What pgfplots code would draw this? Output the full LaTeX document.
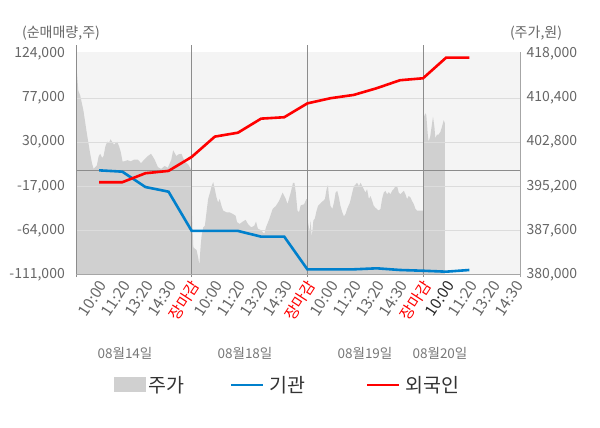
\documentclass[border=0pt]{standalone}
\usepackage{pgfplots}
\pgfplotsset{compat=1.18}
\usepackage{fontspec}
\setmainfont{Noto Sans CJK KR}
\definecolor{bg}{HTML}{F4F4F4}
\definecolor{areagray}{HTML}{D0D0D0}
\definecolor{gridc}{HTML}{DCDCDC}
\definecolor{sepc}{HTML}{8C8C8C}
\definecolor{axc}{HTML}{A6A6A6}
\definecolor{tickc}{HTML}{666666}
\definecolor{datec}{HTML}{777777}
\definecolor{bluel}{HTML}{0080CC}
\definecolor{redl}{HTML}{FF0000}
\definecolor{legc}{HTML}{333333}
\newcommand{\tfont}{\fontsize{14bp}{16bp}\selectfont}
\newcommand{\xfont}{\fontsize{15.3bp}{17bp}\selectfont}
\newcommand{\lfont}{\fontsize{19.5bp}{22bp}\selectfont}
\begin{document}
\begin{tikzpicture}
\path[use as bounding box] (0bp,0bp) rectangle (600bp,428bp);
% ---------- price area (right axis) ----------
\begin{axis}[
  at={(76bp,153.7bp)}, anchor=south west, scale only axis,
  width=444bp, height=222.6bp,
  xmin=0, xmax=19.19, ymin=380000, ymax=418432,
  scaled x ticks=false, scaled y ticks=false,
  axis background/.style={fill=bg},
  axis line style={draw=none},
  xtick=\empty,
  ytick={380000,387600,395200,402800,410400,418000},
  yticklabels={{380,000},{387,600},{395,200},{402,800},{410,400},{418,000}},
  yticklabel pos=right,
  major tick length=0pt,
  yticklabel style={font=\tfont, text=tickc, anchor=west, inner sep=0pt, xshift=6.5bp},
  clip=false,
  legend style={at={(axis description cs:0.0856,-0.497)}, anchor=west, draw=none, fill=none,
    inner sep=0pt, font=\lfont, text=legc},
]
\addplot[fill=areagray, draw=none,
  legend image code/.code={\fill[areagray] (0bp,-7.5bp) rectangle (32bp,7.5bp);}]
coordinates {
(0,416900) (0.10,411700) (0.18,410900) (0.32,408300) (0.47,404300) (0.61,400900) (0.69,399200) (0.76,398200) (0.90,398800) (0.98,400400) (1.05,400800) (1.13,400100) (1.19,400400) (1.27,402100) (1.35,402900) (1.42,402600) (1.49,403300) (1.56,402900) (1.64,402400) (1.78,402900) (1.86,402100) (1.93,401200) (2.01,399500) (2.08,399500) (2.22,399700) (2.37,399500) (2.51,399800) (2.67,399800) (2.81,399200) (2.95,399800) (3.10,400400) (3.24,400800) (3.31,400400) (3.40,399800) (3.54,398500) (3.68,398200) (3.83,398700) (3.97,398400) (4.12,399800) (4.20,401400) (4.27,400900) (4.34,400400) (4.42,400700) (4.56,400800) (4.63,400100) (4.70,399500) (4.86,398900) (4.97,398100) (5.00,398100)
(5.01,390400) (5.07,384700) (5.14,384400) (5.21,384200) (5.29,382700) (5.33,381600) (5.39,385000) (5.43,386700) (5.50,388100) (5.57,388400) (5.64,390700) (5.71,393000) (5.79,394100) (5.86,395200) (5.93,395900) (6.00,394700) (6.07,393300) (6.14,392400) (6.21,393000) (6.29,391800) (6.36,391000) (6.50,390700) (6.64,390700) (6.79,390400) (6.90,390100) (6.96,389000) (7.07,388700) (7.21,389100) (7.33,389400) (7.43,388700) (7.57,388100) (7.71,388400) (7.78,389100) (7.86,387900) (8.00,387600) (8.14,387000) (8.21,388100) (8.36,389600) (8.50,391300) (8.64,391800) (8.78,392700) (8.93,394100) (9.07,393000) (9.14,392100) (9.28,394100) (9.38,395800) (9.44,395800) (9.50,394100) (9.57,391000) (9.64,390700) (9.71,391900) (9.86,392100) (9.96,393000) (10.00,393000)
(10.03,389000) (10.10,387300) (10.14,389300) (10.19,386400) (10.26,389300) (10.32,389600) (10.40,391000) (10.46,391800) (10.53,392100) (10.60,392400) (10.69,392700) (10.76,393000) (10.83,394700) (10.89,395400) (10.93,393500) (11.00,391800) (11.08,391300) (11.15,392400) (11.22,394100) (11.29,394400) (11.36,393300) (11.43,391800) (11.51,390700) (11.58,390000) (11.65,390400) (11.72,391300) (11.84,392400) (11.94,394100) (12.01,395200) (12.08,395500) (12.15,395800) (12.23,395200) (12.30,395800) (12.37,395200) (12.44,394700) (12.51,394100) (12.58,394700) (12.66,393000) (12.73,393500) (12.80,392700) (12.87,391800) (12.94,391500) (13.08,391000) (13.16,391300) (13.23,393000) (13.30,394100) (13.37,394400) (13.45,393800) (13.52,394200) (13.59,393800) (13.66,394400) (13.73,394700) (13.81,395200) (13.88,395200) (13.95,394100) (14.02,393800) (14.09,394100) (14.17,394400) (14.24,393800) (14.31,393000) (14.38,393500) (14.45,393300) (14.52,392700) (14.60,392100) (14.67,391300) (14.74,391000) (14.96,391000) (15.00,391000)
(15.01,406900) (15.10,407800) (15.14,407500) (15.20,404300) (15.24,402900) (15.31,403800) (15.39,406100) (15.43,407200) (15.49,405500) (15.53,403500) (15.60,404100) (15.67,404100) (15.75,404600) (15.82,405500) (15.89,406600) (15.94,406100)
} \closedcycle;
\addlegendentry{주가}
\end{axis}
% ---------- net buying lines (left axis) ----------
\begin{axis}[
  at={(76bp,153.7bp)}, anchor=south west, scale only axis,
  width=444bp, height=222.6bp,
  xmin=0, xmax=19.19, ymin=-111000, ymax=126670,
  scaled x ticks=false, scaled y ticks=false,
  axis line style={draw=none},
  clip=false,
  xtick={1,...,19},
  xticklabels={10:00,11:20,13:20,14:30,{\color{redl}장마감},10:00,11:20,13:20,14:30,{\color{redl}장마감},10:00,11:20,13:20,14:30,{\color{redl}장마감},{\color{black!85}10:00},11:20,13:20,14:30},
  xticklabel style={font=\xfont, text=tickc, inner sep=0pt, xshift=4bp, yshift=-8bp, rotate=57, anchor=east},
  ytick={-111000,-64000,-17000,30000,77000,124000},
  yticklabels={{-111,000},{-64,000},{-17,000},{30,000},{77,000},{124,000}},
  yticklabel style={font=\tfont, text=tickc, anchor=east, inner sep=0pt, xshift=-11bp},
  major tick length=0pt,
  extra y ticks={-64000,-17000,30000,77000},
  extra y tick labels={},
  extra y tick style={ymajorgrids=true, major grid style={draw=gridc, line width=1bp}},
  legend style={at={(axis description cs:0.3468,-0.497)}, anchor=west, draw=none, fill=none,
    inner sep=0pt, font=\lfont, text=legc, legend columns=2,
    /tikz/every even column/.append style={column sep=59bp}},
  legend image code/.code={\draw[#1] (0bp,0bp) -- (32bp,0bp); \path (34.5bp,0bp);},
]
% frame and separators
\draw[sepc, line width=1bp] (axis cs:0,0) -- (axis cs:19.19,0);
\draw[sepc, line width=1bp] (axis cs:0,-113900) -- (axis cs:0,133800);
\draw[sepc, line width=1bp] (axis cs:5,-113900) -- (axis cs:5,133800);
\draw[sepc, line width=1bp] (axis cs:10,-113900) -- (axis cs:10,133800);
\draw[sepc, line width=1bp] (axis cs:15,-113900) -- (axis cs:15,133800);
\draw[axc, line width=1bp] (axis cs:0,-111000) -- (axis cs:19.19,-111000);
\draw[axc, line width=1bp] (axis cs:19.19,-113900) -- (axis cs:19.19,126670);
\addplot[bluel, line width=2.6bp] coordinates {
(1,0) (2,-1400) (3,-17800) (4,-22800) (5,-64700) (6,-64700) (7,-64700) (8,-70800) (9,-70800) (10,-105700) (11,-105700) (12,-105700) (13,-104600) (14,-106400) (15,-107200) (16,-108200) (17,-106400)
};
\addlegendentry{기관}
\addplot[redl, line width=2.6bp] coordinates {
(1,-12700) (2,-12700) (3,-3100) (4,-600) (5,14300) (6,36000) (7,40200) (8,55200) (9,56700) (10,71500) (11,77000) (12,80500) (13,87700) (14,96200) (15,98300) (16,120400) (17,120400)
};
\addlegendentry{외국인}
\end{axis}
% axis titles and date labels
\node[font=\fontsize{14bp}{16bp}\selectfont, text=tickc] at (61bp,395bp) {(순매매량,주)};
\node[font=\fontsize{14bp}{16bp}\selectfont, text=tickc] at (536bp,395bp) {(주가,원)};
\node[font=\fontsize{13.5bp}{15bp}\selectfont, text=datec] at (125bp,75bp) {08월14일};
\node[font=\fontsize{13.5bp}{15bp}\selectfont, text=datec] at (245bp,75bp) {08월18일};
\node[font=\fontsize{13.5bp}{15bp}\selectfont, text=datec] at (365bp,75bp) {08월19일};
\node[font=\fontsize{13.5bp}{15bp}\selectfont, text=datec] at (440bp,75bp) {08월20일};
\end{tikzpicture}
\end{document}
